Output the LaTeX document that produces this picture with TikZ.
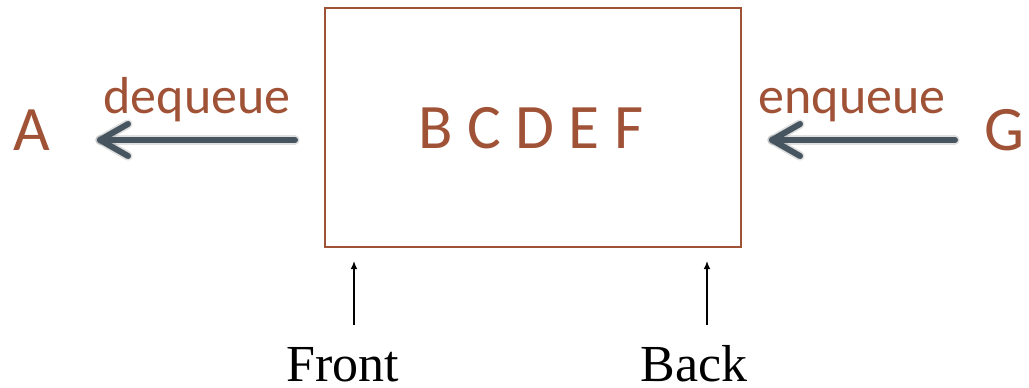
\documentclass[tikz,border=0pt]{standalone}
\usepackage{fontspec}
\setmainfont{Carlito}
\newfontfamily\timesfont{Liberation Serif}
\usetikzlibrary{arrows.meta}
\definecolor{brn}{RGB}{160,82,55}
\definecolor{slate}{RGB}{70,85,95}
\begin{document}
\begin{tikzpicture}[x=0.75pt,y=-0.75pt,
  lbl/.style={text=brn,font=\fontsize{39}{46}\selectfont,inner sep=0pt,anchor=base},
  big/.style={text=brn,font=\fontsize{47.5}{56}\selectfont,inner sep=0pt,anchor=base},
  ser/.style={font=\timesfont\fontsize{39}{46}\selectfont,inner sep=0pt,anchor=base},
  fat/.style={draw=slate,line width=4.5pt,line cap=round,line join=round},
  shad/.style={draw=black,opacity=0.12,line width=7pt,line cap=round,line join=round},
  thin/.style={draw=black,line width=1pt,-{Latex[length=6pt,width=5pt]}}]
\useasboundingbox (0,0) rectangle (1029,387);
\node[draw=brn,line width=1.2pt,minimum width=416*0.75pt,minimum height=239*0.75pt,inner sep=0pt] (box) at (533,127.5) {};
\node[big] (bf) at (531,148) {B C D E F};
\node[big] (a) at (32,150) {A};
\node[big] (g) at (1004,150) {G};
\node[lbl] (dq) at (197,113) {dequeue};
\node[lbl] (eq) at (852,113) {enqueue};
\coordinate (ls) at (295,140); \coordinate (lt) at (100,140);
\coordinate (rs) at (955,140); \coordinate (rt) at (772,140);
% shadows
\begin{scope}[shift={(2,5)}]
\draw[shad] (ls) -- (lt);
\draw[shad] ([shift={(28,-16)}]lt) -- (lt) -- ([shift={(28,16)}]lt);
\draw[shad] (rs) -- (rt);
\draw[shad] ([shift={(28,-16)}]rt) -- (rt) -- ([shift={(28,16)}]rt);
\end{scope}
% arrows
\draw[fat] (ls) -- (lt);
\draw[fat] ([shift={(28,-16)}]lt) -- (lt) -- ([shift={(28,16)}]lt);
\draw[fat] (rs) -- (rt);
\draw[fat] ([shift={(28,-16)}]rt) -- (rt) -- ([shift={(28,16)}]rt);
% front/back
\node[ser] (fr) at (343,381) {Front};
\node[ser] (bk) at (694,381) {Back};
\coordinate (fa) at (354,325); \coordinate (fb) at (354,261);
\coordinate (ba) at (707,325); \coordinate (bb) at (707,261);
\draw[thin] (fa) -- (fb);
\draw[thin] (ba) -- (bb);
\end{tikzpicture}
\end{document}
